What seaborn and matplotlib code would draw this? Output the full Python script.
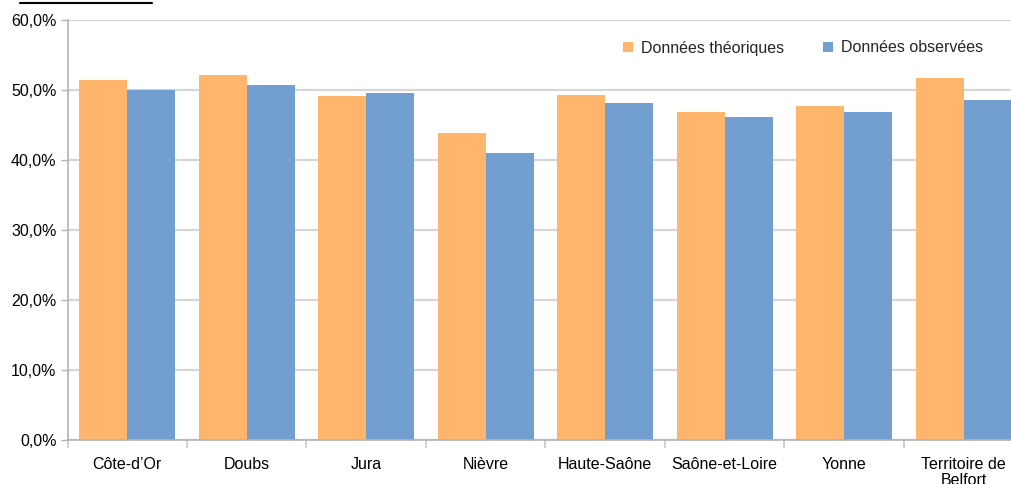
import matplotlib
matplotlib.use("Agg")
import matplotlib.pyplot as plt
import seaborn as sns
import pandas as pd
from matplotlib.lines import Line2D
from matplotlib.patches import Patch

categories = ["Côte-d’Or", "Doubs", "Jura", "Nièvre", "Haute-Saône",
              "Saône-et-Loire", "Yonne", "Territoire de\nBelfort"]
series_names = ["Données théoriques", "Données observées"]
theoriques = [51.4, 52.1, 49.1, 43.9, 49.3, 46.9, 47.7, 51.7]
observees = [50.0, 50.7, 49.6, 41.0, 48.1, 46.1, 46.9, 48.6]
yticks = [0, 10, 20, 30, 40, 50, 60]
colors = ["#ffb66c", "#729fcf"]

df = pd.DataFrame({
    "cat": categories * 2,
    "serie": [series_names[0]] * len(categories) + [series_names[1]] * len(categories),
    "val": theoriques + observees,
})

sns.set_theme(style="white")
plt.rcParams['font.family'] = ['Liberation Sans', 'DejaVu Sans']

fig = plt.figure(figsize=(10.12, 4.84), dpi=100)
ax = fig.add_axes([67.5 / 1012, 44 / 484, 956 / 1012, 420 / 484])

sns.barplot(data=df, x="cat", y="val", hue="serie", palette=colors,
            order=categories, hue_order=series_names, width=0.8, gap=0,
            saturation=1, ax=ax, legend=False, linewidth=0, edgecolor="none")

ax.set_xlim(-0.5, len(categories) - 0.5)
ax.set_ylim(0, 60)
ax.set_yticks(yticks)
ax.set_yticklabels([f"{v},0%" for v in yticks], fontsize=11.5, color="#000000")
ax.yaxis.grid(True, color="#d6d6d6", linewidth=1.6)
ax.set_axisbelow(True)
ax.set_xlabel("")
ax.set_ylabel("")
ax.tick_params(axis="y", which="major", left=True, length=5, width=1,
               color="#b3b3b3", pad=3)
ax.set_xticks(range(len(categories)))
ax.set_xticklabels(categories, fontsize=11.5, color="#000000", linespacing=1.1)
ax.tick_params(axis="x", which="major", bottom=False, length=0, pad=12)
ax.set_xticks([i - 0.5 for i in range(len(categories) + 1)], minor=True)
ax.tick_params(axis="x", which="minor", bottom=True, length=6, width=1.2,
               color="#c8c8c8")
for s in ["top", "right"]:
    ax.spines[s].set_visible(False)
for s in ["left", "bottom"]:
    ax.spines[s].set_color("#b3b3b3")
    ax.spines[s].set_linewidth(1.2)

handles = [Patch(facecolor=c, edgecolor="none") for c in colors]
leg = fig.legend(handles, series_names, loc="center left",
                 bbox_to_anchor=(617 / 1012, 1 - 48 / 484), ncol=2, frameon=False,
                 fontsize=11.5, handlelength=0.6, handleheight=0.6,
                 handletextpad=0.5, columnspacing=2.45, borderaxespad=0)

# underline of the cropped title at the top edge
fig.add_artist(Line2D([20 / 1012, 152 / 1012], [1 - 3 / 484, 1 - 3 / 484],
                      transform=fig.transFigure, color="#000000", linewidth=1.5))

fig.savefig("out.png", dpi=100)
